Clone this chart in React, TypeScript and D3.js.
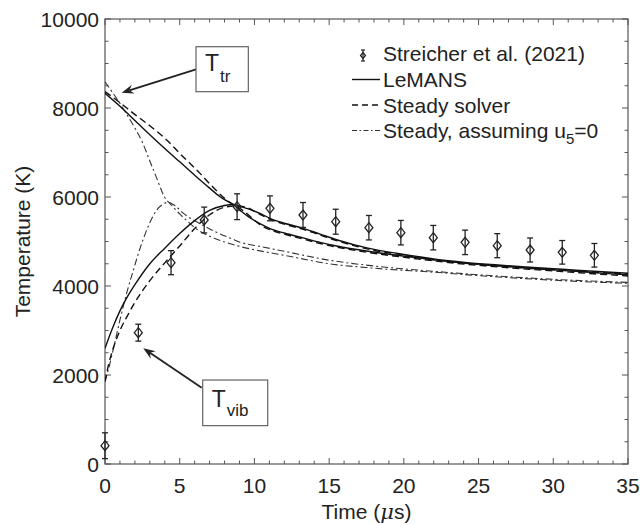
import * as d3 from 'd3';
import { useEffect, useRef } from 'react';

// Streicher et al. (2021) measurements
const expTime = [0, 2.23, 4.42, 6.64, 8.84, 11.04, 13.25, 15.44, 17.66, 19.8, 21.97, 24.1, 26.25, 28.45, 30.6, 32.75];
const expTemp = [411, 2951, 4524, 5483, 5782, 5745, 5596, 5445, 5310, 5198, 5086, 4981, 4906, 4809, 4757, 4690];
const expErr = [290, 190, 270, 290, 290, 280, 280, 280, 275, 275, 275, 275, 270, 270, 265, 265];

// LeMANS
const lemansTtrTime = [0, 1, 2, 3, 4, 5, 6, 7, 7.7, 8.2, 8.6, 9.04, 9.5, 10.37, 11.04, 12, 13.27, 14.4, 15.5, 17.6, 19.8, 22, 24.1, 26.3, 28.4, 30.6, 32.7, 35];
const lemansTtr = [8330, 8040, 7720, 7400, 7090, 6790, 6490, 6200, 6006, 5900, 5820, 5700, 5580, 5400, 5290, 5190, 5080, 4980, 4900, 4780, 4680, 4590, 4515, 4455, 4400, 4350, 4300, 4250];
const lemansTvibTime = [0, 0.5, 1, 1.5, 2, 3, 4, 5, 6, 7, 8, 8.6, 9.04, 10.37, 11.04, 12, 13.27, 14.4, 15.5, 17.6, 19.8, 22, 24.1, 26.3, 28.4, 30.6, 32.7, 35];
const lemansTvib = [2600, 3050, 3440, 3760, 4030, 4500, 4850, 5180, 5470, 5700, 5810, 5830, 5790, 5633, 5520, 5410, 5296, 5165, 5040, 4850, 4720, 4610, 4532, 4472, 4420, 4375, 4330, 4285];

// Steady solver
const steadyTtrTime = [0, 1, 1.9, 3, 4.13, 5, 6.36, 7, 8.15, 8.8, 9.3, 10.37, 11.04, 12, 13.27, 14.4, 15.5, 17.6, 19.8, 22, 24.1, 26.3, 28.4, 30.6, 32.7, 35];
const steadyTtr = [8370, 8120, 7880, 7600, 7280, 6980, 6531, 6300, 5932, 5790, 5680, 5380, 5265, 5165, 5055, 4955, 4875, 4755, 4655, 4565, 4490, 4430, 4375, 4325, 4275, 4225];
const steadyTvibTime = [0, 0.25, 0.5, 1, 1.5, 2, 3, 4, 5, 6, 7, 8, 8.8, 9.5, 10.37, 11.04, 12, 13.27, 14.4, 15.5, 17.6, 19.8, 22, 24.1, 26.3, 28.4, 30.6, 32.7, 35];
const steadyTvib = [1850, 2250, 2550, 3000, 3330, 3630, 4120, 4520, 4900, 5290, 5600, 5770, 5800, 5760, 5610, 5500, 5390, 5275, 5145, 5020, 4830, 4700, 4590, 4512, 4452, 4400, 4355, 4310, 4265];

// Steady, assuming u5 = 0
const u5TtrTime = [0, 0.5, 1, 1.5, 2, 2.5, 3, 3.5, 3.8, 4, 4.24, 4.6, 5, 5.5, 6.13, 7, 8, 9, 10.37, 12, 15, 18, 22, 26, 30, 35];
const u5Ttr = [8590, 8350, 8105, 7830, 7550, 7230, 6810, 6390, 6130, 5990, 5890, 5760, 5620, 5460, 5280, 5120, 4990, 4890, 4790, 4690, 4500, 4400, 4310, 4210, 4130, 4060];
const u5TvibTime = [0, 0.22, 0.5, 1, 1.5, 1.9, 2.4, 2.79, 3.2, 3.46, 3.8, 4.24, 4.7, 5.3, 6.36, 7.5, 8.5, 9, 10.37, 12, 15, 18, 22, 26, 30, 35];
const u5Tvib = [1850, 2112, 2500, 3236, 3900, 4360, 4900, 5258, 5560, 5707, 5820, 5880, 5800, 5620, 5400, 5200, 5060, 4990, 4890, 4780, 4580, 4450, 4330, 4230, 4150, 4080];

const legendLabels = ['Streicher et al. (2021)', 'LeMANS', 'Steady solver', 'Steady, assuming u'];

const W = 640;
const H = 525;
const margin = { top: 19, right: 12, bottom: 61, left: 105 };
const FONT = '"Liberation Sans", Arial, Helvetica, sans-serif';
const INK = '#222';
const FRAME = '#555';

const zip = (t, v) => t.map((x, i) => ({ t: x, v: v[i] }));

const App = () => {
  const svgRef = useRef(null);

  useEffect(() => {
    const svg = d3.select(svgRef.current);
    svg.selectAll('*').remove();

    const x = d3.scaleLinear().domain([0, 35]).range([margin.left, W - margin.right]);
    const y = d3.scaleLinear().domain([0, 10000]).range([H - margin.bottom, margin.top]);
    const [x0, x1] = x.range();
    const [y0, y1] = y.range();

    svg.append('defs').append('clipPath').attr('id', 'plot-clip')
      .append('rect').attr('x', x0).attr('y', y1).attr('width', x1 - x0).attr('height', y0 - y1);

    // ── Ticks (inward, all four sides) ───────────────────────────────────────
    const ticks = svg.append('g').attr('stroke', FRAME).attr('stroke-width', 1);
    const xMinor = d3.range(0, 36, 1);
    const yMinor = d3.range(0, 10001, 500);
    xMinor.forEach(v => {
      const len = v % 5 === 0 ? 6 : 3.5;
      ticks.append('line').attr('x1', x(v)).attr('x2', x(v)).attr('y1', y0).attr('y2', y0 - len);
      ticks.append('line').attr('x1', x(v)).attr('x2', x(v)).attr('y1', y1).attr('y2', y1 + len);
    });
    yMinor.forEach(v => {
      const len = v % 2000 === 0 ? 6 : 3.5;
      ticks.append('line').attr('x1', x0).attr('x2', x0 + len).attr('y1', y(v)).attr('y2', y(v));
      ticks.append('line').attr('x1', x1).attr('x2', x1 - len).attr('y1', y(v)).attr('y2', y(v));
    });

    svg.append('rect').attr('x', x0).attr('y', y1).attr('width', x1 - x0).attr('height', y0 - y1)
      .attr('fill', 'none').attr('stroke', FRAME).attr('stroke-width', 1.2);

    // ── Tick labels ─────────────────────────────────────────────────────────
    const labels = svg.append('g').attr('font-family', FONT).attr('font-size', 21).attr('fill', INK);
    d3.range(0, 36, 5).forEach(v => {
      labels.append('text').attr('x', x(v)).attr('y', y0 + 29).attr('text-anchor', 'middle').text(v);
    });
    d3.range(0, 10001, 2000).forEach(v => {
      labels.append('text').attr('x', x0 - 6).attr('y', y(v) + 7.5).attr('text-anchor', 'end').text(v);
    });

    const xt = labels.append('text').attr('x', (x0 + x1) / 2).attr('y', H - 6).attr('text-anchor', 'middle');
    xt.append('tspan').text('Time (');
    xt.append('tspan').attr('font-style', 'italic').attr('font-family', '"DejaVu Serif", serif').text('μ');
    xt.append('tspan').text('s)');

    labels.append('text')
      .attr('transform', `translate(30,${(y0 + y1) / 2}) rotate(-90)`)
      .attr('text-anchor', 'middle')
      .text('Temperature (K)');

    // ── Curves ──────────────────────────────────────────────────────────────
    const line = d3.line().x(d => x(d.t)).y(d => y(d.v)).curve(d3.curveMonotoneX);
    const curves = svg.append('g').attr('clip-path', 'url(#plot-clip)').attr('fill', 'none');

    const styles = {
      solid: { dash: null, width: 1.4, color: '#111' },
      dashed: { dash: '7 4', width: 1.4, color: '#111' },
      dashdot: { dash: '7 3 2 3', width: 1.1, color: '#333' }
    };
    const series = [
      [zip(u5TtrTime, u5Ttr), 'dashdot'],
      [zip(u5TvibTime, u5Tvib), 'dashdot'],
      [zip(steadyTtrTime, steadyTtr), 'dashed'],
      [zip(steadyTvibTime, steadyTvib), 'dashed'],
      [zip(lemansTtrTime, lemansTtr), 'solid'],
      [zip(lemansTvibTime, lemansTvib), 'solid']
    ];
    series.forEach(([data, kind]) => {
      const s = styles[kind];
      curves.append('path').datum(data).attr('d', line)
        .attr('stroke', s.color).attr('stroke-width', s.width)
        .attr('stroke-dasharray', s.dash);
    });

    // ── Measurements ────────────────────────────────────────────────────────
    const pts = svg.append('g').attr('stroke', INK).attr('stroke-width', 1.3).attr('fill', 'none');
    const diamond = (cx, cy, hw, hh) => `M${cx},${cy - hh}L${cx + hw},${cy}L${cx},${cy + hh}L${cx - hw},${cy}Z`;
    expTime.forEach((t, i) => {
      const cx = x(t);
      const top = y(expTemp[i] + expErr[i]);
      const bot = y(expTemp[i] - expErr[i]);
      pts.append('line').attr('x1', cx).attr('x2', cx).attr('y1', top).attr('y2', bot);
      pts.append('line').attr('x1', cx - 3).attr('x2', cx + 3).attr('y1', top).attr('y2', top);
      pts.append('line').attr('x1', cx - 3).attr('x2', cx + 3).attr('y1', bot).attr('y2', bot);
      pts.append('path').attr('d', diamond(cx, y(expTemp[i]), 4, 5));
    });

    // ── Legend ──────────────────────────────────────────────────────────────
    const lg = svg.append('g').attr('font-family', FONT).attr('font-size', 21).attr('fill', INK);
    const lx = 352;
    const rows = [61, 87, 112.5, 138];
    const ic = lg.append('g').attr('stroke', INK).attr('stroke-width', 1.2).attr('fill', 'none');
    ic.append('line').attr('x1', 363).attr('x2', 363).attr('y1', rows[0] - 11).attr('y2', rows[0]);
    ic.append('line').attr('x1', 361).attr('x2', 365).attr('y1', rows[0] - 11).attr('y2', rows[0] - 11);
    ic.append('line').attr('x1', 361).attr('x2', 365).attr('y1', rows[0]).attr('y2', rows[0]);
    ic.append('path').attr('d', diamond(363, rows[0] - 5.5, 2.5, 3));
    const sampleKinds = ['solid', 'dashed', 'dashdot'];
    sampleKinds.forEach((k, i) => {
      const s = styles[k];
      lg.append('line').attr('x1', lx).attr('x2', lx + 28).attr('y1', rows[i + 1] - 7.5).attr('y2', rows[i + 1] - 7.5)
        .attr('stroke', s.color).attr('stroke-width', s.width)
        .attr('stroke-dasharray', k === 'dashed' ? '6 4' : k === 'dashdot' ? '5 2.5 1.5 2.5' : null);
    });
    legendLabels.forEach((lab, i) => {
      const t = lg.append('text').attr('x', lx + 31).attr('y', rows[i]).text(lab);
      if (i === 3) {
        t.append('tspan').attr('font-size', 15).attr('dy', 6).text('5');
        t.append('tspan').attr('dy', -6).text('=0');
      }
    });

    // ── Annotations ─────────────────────────────────────────────────────────
    const ann = svg.append('g').attr('font-family', FONT).attr('fill', INK);
    const arrow = (fromT, fromV, toT, toV) => {
      const xa = x(fromT), ya = y(fromV), xb = x(toT), yb = y(toV);
      const ang = Math.atan2(yb - ya, xb - xa);
      const L = 12, Wd = 4.5, notch = 8;
      const bx = xb - L * Math.cos(ang), by = yb - L * Math.sin(ang);
      const nx = xb - notch * Math.cos(ang), ny = yb - notch * Math.sin(ang);
      const px = -Math.sin(ang), py = Math.cos(ang);
      ann.append('line').attr('x1', xa).attr('y1', ya).attr('x2', nx).attr('y2', ny)
        .attr('stroke', INK).attr('stroke-width', 1.8);
      ann.append('path')
        .attr('d', `M${xb},${yb}L${bx + px * Wd},${by + py * Wd}L${nx},${ny}L${bx - px * Wd},${by - py * Wd}Z`)
        .attr('fill', INK);
    };
    const box = (tA, vA, tB, vB) => {
      ann.append('rect').attr('x', x(tA)).attr('y', y(vA)).attr('width', x(tB) - x(tA)).attr('height', y(vB) - y(vA))
        .attr('fill', '#fff').attr('stroke', FRAME).attr('stroke-width', 1.1);
    };

    arrow(6.09, 8870, 1.12, 8343);
    box(6.09, 9377, 9.59, 8366);
    const t1 = ann.append('text').attr('x', x(6.09) + 9).attr('y', y(9377) + 24).attr('font-size', 23);
    t1.append('tspan').text('T');
    t1.append('tspan').attr('font-size', 17).attr('dy', 11).attr('dx', 1).text('tr');

    arrow(6.47, 1714, 2.56, 2600);
    box(6.54, 1887, 10.89, 861);
    const t2 = ann.append('text').attr('x', x(6.54) + 9).attr('y', y(1887) + 27).attr('font-size', 23);
    t2.append('tspan').text('T');
    t2.append('tspan').attr('font-size', 17).attr('dy', 9).attr('dx', 1).text('vib');
  }, []);

  return (
    <svg
      ref={svgRef}
      width={W}
      height={H}
      style={{ position: 'absolute', left: 0, top: 0, background: '#fff' }}
    />
  );
};

export default App;
